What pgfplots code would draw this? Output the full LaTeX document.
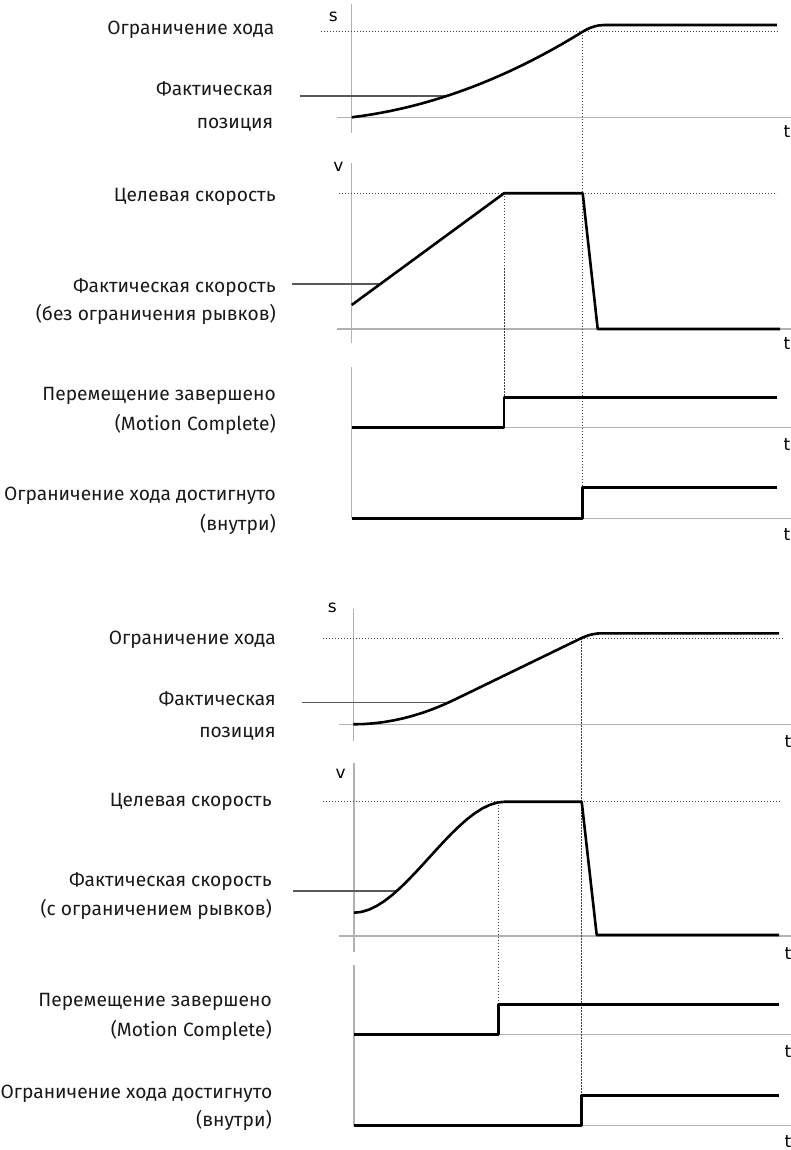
\documentclass[border=0pt]{standalone}
\usepackage{fontspec}
\setmainfont{Fira Sans}
\newfontfamily\axfont{DejaVu Sans}
\usepackage{pgfplots}
\pgfplotsset{compat=1.18}
\tikzset{
  axl/.style={draw=black!30, line width=1.1pt},
  dot/.style={draw=black!75, line width=0.9pt, dash pattern=on 1.2pt off 1.8pt},
  crv/.style={draw=black, line width=2.6pt, line join=round},
  ptr/.style={draw=black!65, line width=1.1pt},
  lbl/.style={anchor=base east, inner sep=0pt, font=\fontsize{19.2}{23}\selectfont, text=black!90},
  axl2/.style={anchor=center, inner sep=0pt, font=\axfont\fontsize{17}{20}\selectfont},
}
\begin{document}
\begin{tikzpicture}
\begin{axis}[
  at={(0,0)}, anchor=south west,
  scale only axis, width=791pt, height=1150pt,
  xmin=0, xmax=791, ymin=0, ymax=1150, y dir=reverse,
  hide axis, clip=false,
]
% ================= TOP DIAGRAM =================
\addplot[axl] coordinates {(351.7,4) (351.7,133)};
\addplot[axl] coordinates {(336.7,117.3) (791,117.3)};
\addplot[axl] coordinates {(351.7,163) (351.7,343)};
\addplot[axl] coordinates {(336.7,329) (791,329)};
\addplot[axl] coordinates {(351.7,367) (351.7,518.3)};
\addplot[axl] coordinates {(351.7,427.3) (791,427.3)};
\addplot[axl] coordinates {(351.7,518.3) (791,518.3)};
\addplot[dot] coordinates {(320.7,31.7) (777,31.7)};
\addplot[dot] coordinates {(582.7,31.7) (582.7,487.7)};
\addplot[dot] coordinates {(339,193.3) (777,193.3)};
\addplot[dot] coordinates {(504,193.3) (504,397.3)};
\addplot[ptr] coordinates {(300,96) (446.7,96)};
\addplot[ptr] coordinates {(291.7,284) (380,284)};
% actual position
\addplot[crv] coordinates {(351.7,117.3) (361.7,115.97) (371.7,114.43) (381.7,112.67) (391.7,110.70) (401.7,108.51) (411.7,106.11) (421.7,103.49) (431.7,100.65) (441.7,97.60) (451.7,94.34) (461.7,90.86) (471.7,87.17) (481.7,83.26) (491.7,79.13) (501.7,74.79) (511.7,70.23) (521.7,65.46) (531.7,60.48) (541.7,55.28) (551.7,49.86) (561.7,44.23) (571.7,38.38) (582.7,31.70) (586.7,29.45) (590.7,27.67) (594.7,26.34) (598.7,25.46) (604.3,25.0) (777,25)};
% actual velocity
\addplot[crv] coordinates {(351.7,305) (504,193.3) (582.7,193.3) (597.7,329) (780,329)};
% steps
\addplot[crv] coordinates {(351.7,427.3) (504,427.3) (504,397.3) (776.7,397.3)};
\addplot[crv] coordinates {(351.7,518.3) (582.7,518.3) (582.7,487.7) (776.7,487.7)};
\node[axl2] at (axis cs:333.3,16.7) {s};
\node[axl2] at (axis cs:787,132) {t};
\node[axl2] at (axis cs:338.3,166.7) {v};
\node[axl2] at (axis cs:787,343.3) {t};
\node[axl2] at (axis cs:787,445) {t};
\node[axl2] at (axis cs:787,535) {t};
\node[lbl] at (axis cs:274.5,34.5) {Ограничение хода};
\node[lbl] at (axis cs:273.5,96) {Фактическая};
\node[lbl] at (axis cs:273.5,128.3) {позиция};
\node[lbl] at (axis cs:276,202) {Целевая скорость};
\node[lbl] at (axis cs:276,292) {Фактическая скорость};
\node[lbl] at (axis cs:276,320.5) {(без ограничения рывков)};
\node[lbl] at (axis cs:276,400.5) {Перемещение завершено};
\node[lbl] at (axis cs:276,430.5) {(Motion Complete)};
\node[lbl] at (axis cs:276,500) {Ограничение хода достигнуто};
\node[lbl] at (axis cs:276,530) {(внутри)};
% ================= BOTTOM DIAGRAM =================
\addplot[axl] coordinates {(353.3,609) (353.3,740.7)};
\addplot[axl] coordinates {(339,724.3) (791,724.3)};
\addplot[axl] coordinates {(354,762.7) (354,951.7)};
\addplot[axl] coordinates {(339,936) (791,936)};
\addplot[axl] coordinates {(354,965) (354,1125.7)};
\addplot[axl] coordinates {(354,1034.3) (791,1034.3)};
\addplot[axl] coordinates {(354,1125.7) (791,1125.7)};
\addplot[dot] coordinates {(323,638.3) (783,638.3)};
\addplot[dot] coordinates {(581.7,638.3) (581.7,1095.7)};
\addplot[dot] coordinates {(323,801.7) (781.7,801.7)};
\addplot[dot] coordinates {(498.3,801.7) (498.3,1004.3)};
\addplot[ptr] coordinates {(301.7,702.5) (448.3,702.5)};
\addplot[ptr] coordinates {(293,891) (397.5,891)};
% actual position (jerk limited)
\addplot[crv] coordinates {(353.3,724.3) (363.3,724.06) (373.3,723.34) (383.3,722.14) (393.3,720.46) (403.3,718.29) (413.3,715.65) (423.3,712.53) (433.3,708.92) (443.3,704.84) (454.2,699.83) (581,638.3) (585,636.55) (589,635.17) (593,634.18) (597,633.55) (601.6,633.3) (779,633.3)};
% actual velocity (jerk limited)
\addplot[crv] coordinates {(354,912.7) (361.55,911.90) (369.1,909.59) (376.65,905.96) (384.2,901.16) (391.75,895.36) (399.3,888.72) (406.85,881.43) (414.4,873.63) (421.95,865.50) (429.5,857.2) (437.05,848.90) (444.6,840.77) (452.15,832.97) (459.7,825.68) (467.25,819.04) (474.8,813.24) (482.35,808.44) (489.9,804.81) (497.45,802.50) (505,801.7) (581.7,801.7) (596.7,935) (779,935)};
\addplot[crv] coordinates {(354,1034.3) (498.3,1034.3) (498.3,1004.3) (779,1004.3)};
\addplot[crv] coordinates {(354,1125.7) (581.7,1125.7) (581.7,1095.7) (779,1095.7)};
\node[axl2] at (axis cs:332.3,608.3) {s};
\node[axl2] at (axis cs:788,741.7) {t};
\node[axl2] at (axis cs:340.7,774) {v};
\node[axl2] at (axis cs:788,953.3) {t};
\node[axl2] at (axis cs:788,1051.7) {t};
\node[axl2] at (axis cs:788,1141.7) {t};
\node[lbl] at (axis cs:276,644) {Ограничение хода};
\node[lbl] at (axis cs:276,705.5) {Фактическая};
\node[lbl] at (axis cs:276,737) {позиция};
\node[lbl] at (axis cs:272,806.5) {Целевая скорость};
\node[lbl] at (axis cs:272,886) {Фактическая скорость};
\node[lbl] at (axis cs:272,915) {(с ограничением рывков)};
\node[lbl] at (axis cs:272,1006) {Перемещение завершено};
\node[lbl] at (axis cs:272,1036) {(Motion Complete)};
\node[lbl] at (axis cs:272.5,1098.3) {Ограничение хода достигнуто};
\node[lbl] at (axis cs:272,1126.7) {(внутри)};
\end{axis}
\pgfresetboundingbox
\useasboundingbox (0,0) rectangle (791pt,1150pt);
\end{tikzpicture}
\end{document}
